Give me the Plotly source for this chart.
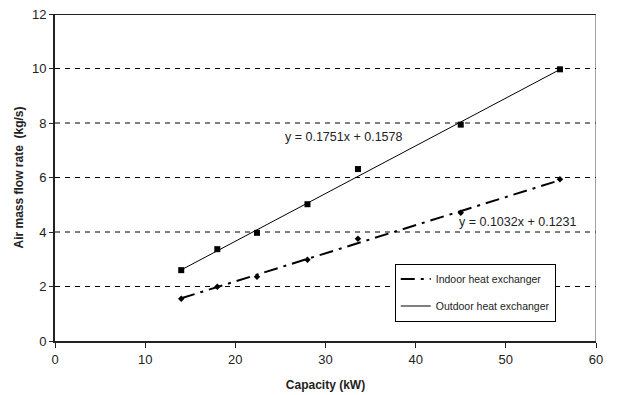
import numpy as np
import plotly.graph_objects as go

# Measured capacity (kW) and air mass flow rate (kg/s)
capacity = [14, 18, 22.4, 28, 33.6, 45, 56]
outdoor_flow = [2.6, 3.37, 3.97, 5.02, 6.31, 7.94, 9.97]
indoor_flow = [1.55, 1.99, 2.36, 2.98, 3.75, 4.71, 5.94]

# Linear fits (slope, intercept)
outdoor_fit = (0.1751, 0.1578)
indoor_fit = (0.1032, 0.1231)

x_ticks = [0, 10, 20, 30, 40, 50, 60]
y_ticks = [0, 2, 4, 6, 8, 10, 12]

FONT = "Liberation Sans, Arial, sans-serif"

x_fit = np.array([min(capacity), max(capacity)])

fig = go.Figure()

# Grid lines at interior y ticks
for yv in y_ticks[1:-1]:
    fig.add_shape(type="line", xref="x", yref="y", x0=0, x1=60, y0=yv, y1=yv,
                  line=dict(color="black", width=1, dash="5px,5px"), layer="below")

fig.add_trace(go.Scatter(
    x=x_fit, y=indoor_fit[0] * x_fit + indoor_fit[1], mode="lines",
    name="Indoor heat exchanger", legendgroup="indoor",
    line=dict(color="black", width=2, dash="14px,6px,3px,6px")))
fig.add_trace(go.Scatter(
    x=x_fit, y=outdoor_fit[0] * x_fit + outdoor_fit[1], mode="lines",
    name="Outdoor heat exchanger", legendgroup="outdoor",
    line=dict(color="black", width=1)))

fig.add_trace(go.Scatter(
    x=capacity, y=indoor_flow, mode="markers", showlegend=False,
    marker=dict(symbol="diamond", size=5, color="black")))
fig.add_trace(go.Scatter(
    x=capacity, y=outdoor_flow, mode="markers", showlegend=False,
    marker=dict(symbol="square", size=6, color="black")))

# Plot frame: top and right edges
fig.add_shape(type="line", xref="x", yref="y", x0=0, x1=60, y0=12, y1=12,
              line=dict(color="#222", width=2))
fig.add_shape(type="line", xref="x", yref="y", x0=60, x1=60, y0=0, y1=12,
              line=dict(color="#444", width=1))

fig.add_annotation(x=32.1, y=7.49, xref="x", yref="y", showarrow=False,
                   text="y = %.4fx + %.4f" % outdoor_fit,
                   font=dict(family=FONT, size=12.5, color="#222"))
fig.add_annotation(x=51.4, y=4.37, xref="x", yref="y", showarrow=False,
                   text="y = %.4fx + %.4f" % indoor_fit,
                   font=dict(family=FONT, size=12.5, color="#222"))

fig.update_layout(
    width=617, height=395,
    margin=dict(l=55, r=21, t=14, b=54, autoexpand=False),
    paper_bgcolor="white", plot_bgcolor="white",
    font=dict(family=FONT, color="#222"),
    showlegend=True,
    legend=dict(x=0.628, y=0.237, xanchor="left", yanchor="top",
                bordercolor="black", borderwidth=1, bgcolor="white",
                font=dict(family=FONT, size=10.5, color="#222"),
                tracegroupgap=8, itemwidth=30),
    xaxis=dict(range=[0, 60], tickvals=x_ticks, showgrid=False, zeroline=False,
               automargin=False,
               showline=True, linecolor="#222", linewidth=2,
               ticks="outside", ticklen=5, tickcolor="#222",
               tickfont=dict(family=FONT, size=13, color="#222"),
               title=dict(text="<b>Capacity (kW)</b>", standoff=15,
                          font=dict(family=FONT, size=12, color="#222"))),
    yaxis=dict(range=[0, 12], tickvals=y_ticks, showgrid=False, zeroline=False,
               automargin=False,
               showline=True, linecolor="#222", linewidth=2,
               ticks="outside", ticklen=4, tickcolor="#222",
               tickfont=dict(family=FONT, size=13, color="#222"),
               title=dict(text="<b>Air mass flow rate  (kg/s)</b>", standoff=6,
                          font=dict(family=FONT, size=12, color="#222"))),
)

fig.write_html("out.html")
